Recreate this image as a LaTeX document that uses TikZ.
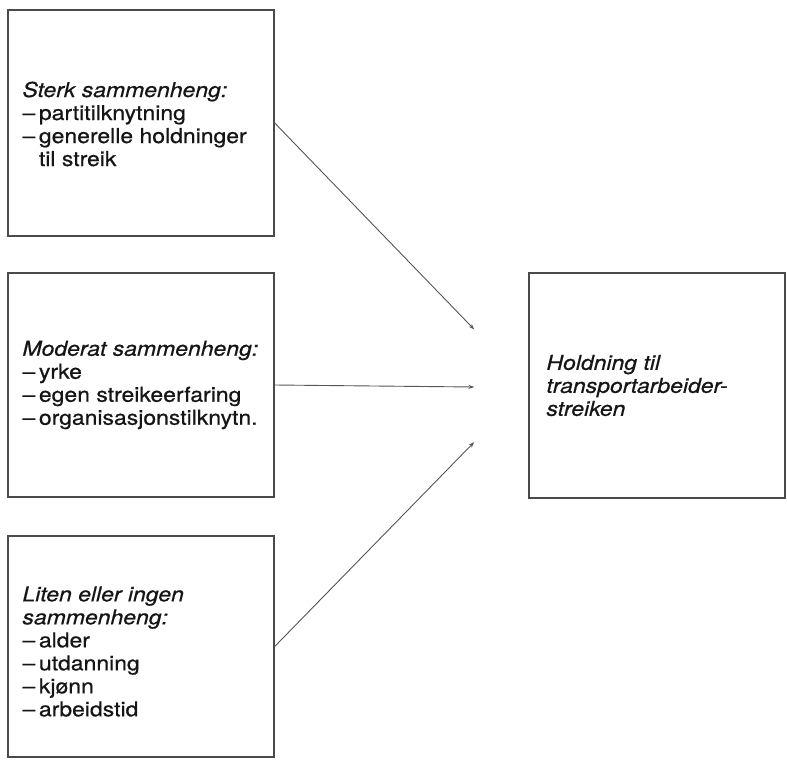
\documentclass[tikz,border=0pt]{standalone}
\usepackage{fontspec}
\setmainfont{TeX Gyre Heros}[FakeStretch=1.12,FakeBold=0.6]
\usetikzlibrary{arrows.meta}
\definecolor{boxline}{HTML}{4A4A4A}
\definecolor{arrline}{HTML}{555555}
\definecolor{ink}{HTML}{151515}
\newcommand{\dsh}{–\hspace{0.18em}}
\begin{document}
\begin{tikzpicture}[x=1pt,y=-1pt,
  box/.style={draw=boxline, line width=1.4pt, fill=none, inner sep=0pt},
  txt/.style={anchor=west, align=left, inner sep=0pt, text=ink,
    font=\fontsize{20.5}{23}\selectfont},
  conn/.style={draw=arrline, line width=0.9pt, -{Stealth[length=6pt,width=4pt]}}]
\useasboundingbox (0,0) rectangle (787,760);
% boxes
\node[box, minimum width=266pt, minimum height=226pt] (b1) at (141,123) {};
\node[box, minimum width=266pt, minimum height=224pt] (b2) at (141,385) {};
\node[box, minimum width=266pt, minimum height=221pt] (b3) at (141,646.5) {};
\node[box, minimum width=256pt, minimum height=225pt] (b4) at (657,385.5) {};
% texts
\node[txt] (t1) at ([xshift=15pt,yshift=-1pt]b1.west) {\textit{Sterk sammenheng:}\\\dsh partitilknytning\\\dsh generelle holdninger\\\phantom{\dsh}til streik};
\node[txt] (t2) at ([xshift=15pt]b2.west) {\textit{Moderat sammenheng:}\\\dsh yrke\\\dsh egen streikeerfaring\\\dsh organisasjonstilknytn.};
\node[txt] (t3) at ([xshift=15pt,yshift=-5pt]b3.west) {\textit{Liten eller ingen}\\\textit{sammenheng:}\\\dsh alder\\\dsh utdanning\\\dsh kjønn\\\dsh arbeidstid};
\node[txt] (t4) at ([xshift=18pt]b4.west) {\textit{Holdning til}\\\textit{transportarbeider-}\\\textit{streiken}};
% arrow ends
\coordinate (e1) at ([xshift=-54pt,yshift=56pt]b4.west);
\coordinate (e2) at ([xshift=-54pt,yshift=-1.5pt]b4.west);
\coordinate (e3) at ([xshift=-54pt,yshift=-56.5pt]b4.west);
\draw[conn] (b1.east) -- (e1);
\draw[conn] (b2.east) -- (e2);
\draw[conn] (b3.east) -- (e3);
\end{tikzpicture}
\end{document}
